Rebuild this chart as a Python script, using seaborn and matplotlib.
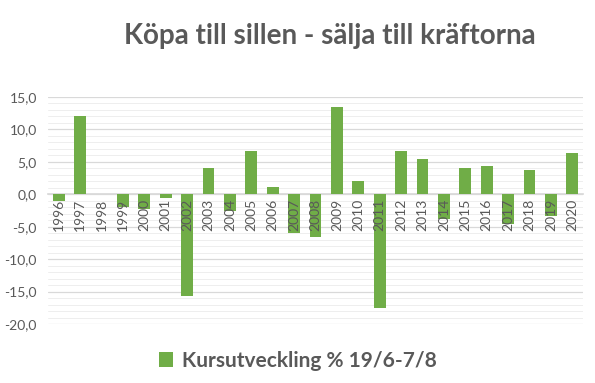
import matplotlib
matplotlib.use("Agg")
import matplotlib.pyplot as plt
import seaborn as sns
import pandas as pd
import numpy as np
from matplotlib.ticker import MultipleLocator, FuncFormatter, FixedLocator
from matplotlib.patches import Patch

years = [str(y) for y in range(1996, 2021)]
values = [-1.0, 12.1, 0.0, -2.0, -2.3, -0.5, -15.7, 4.0, -2.5, 6.7, 1.2, -5.9,
          -6.6, 13.4, 2.1, -17.6, 6.7, 5.5, -3.8, 4.0, 4.4, -4.6, 3.8, -3.4, 6.4]
yticks = [15, 10, 5, 0, -5, -10, -15, -20]
title = "Köpa till sillen - sälja till kräftorna"
series_name = "Kursutveckling % 19/6-7/8"

df = pd.DataFrame({"year": years, "value": values})

sns.set_theme(style="white")
plt.rcParams['font.family'] = ['Lato', 'DejaVu Sans']

fig = plt.figure(figsize=(5.95, 3.83), dpi=100)
ax = fig.add_axes([48/595, 1-324/383, 535/595, (324-97)/383])

green = "#70AD47"
sns.barplot(data=df, x="year", y="value", color=green, width=0.56,
            saturation=1, ax=ax, zorder=3, edgecolor="none")

ax.set_ylim(-20, 15)
ax.set_xlim(-0.5, len(years)-0.5)
ax.yaxis.set_major_locator(FixedLocator(yticks))
ax.yaxis.set_minor_locator(MultipleLocator(1))
ax.yaxis.set_major_formatter(FuncFormatter(lambda v, p: f"{v:.1f}".replace(".", ",")))
ax.grid(axis="y", which="major", color="#D9D9D9", linewidth=0.9, zorder=0)
ax.grid(axis="y", which="minor", color="#EEEEEE", linewidth=0.7, zorder=0)
ax.set_axisbelow(True)
ax.xaxis.set_zorder(4)

for s in ["top", "right", "left"]:
    ax.spines[s].set_visible(False)
ax.spines["bottom"].set_position(("data", 0))
ax.spines["bottom"].set_color("#D9D9D9")
ax.spines["bottom"].set_zorder(2)

ax.set_xlabel("")
ax.set_ylabel("")
ax.tick_params(axis="x", which="major", length=0, pad=3, labelsize=10,
               labelcolor="#595959", rotation=90)
ax.xaxis.set_minor_locator(FixedLocator(np.arange(-0.5, len(years), 1)))
ax.tick_params(axis="x", which="minor", length=3, color="#D9D9D9", direction="out")
ax.tick_params(axis="y", which="both", length=0, labelsize=10, labelcolor="#595959", pad=8)

fig.text(0.555, 0.905, title, ha="center", va="center", fontsize=20,
         fontweight="bold", color="#595959")

handle = Patch(facecolor=green, edgecolor="none")
fig.legend([handle], [series_name], loc="center", bbox_to_anchor=(0.5, 1-361/383),
           frameon=False, handlelength=0.7, handleheight=0.7,
           handletextpad=0.4, labelcolor="#595959",
           prop={"family": ["Lato", "DejaVu Sans"], "size": 15, "weight": "bold"})

fig.savefig("out.png", dpi=100)
